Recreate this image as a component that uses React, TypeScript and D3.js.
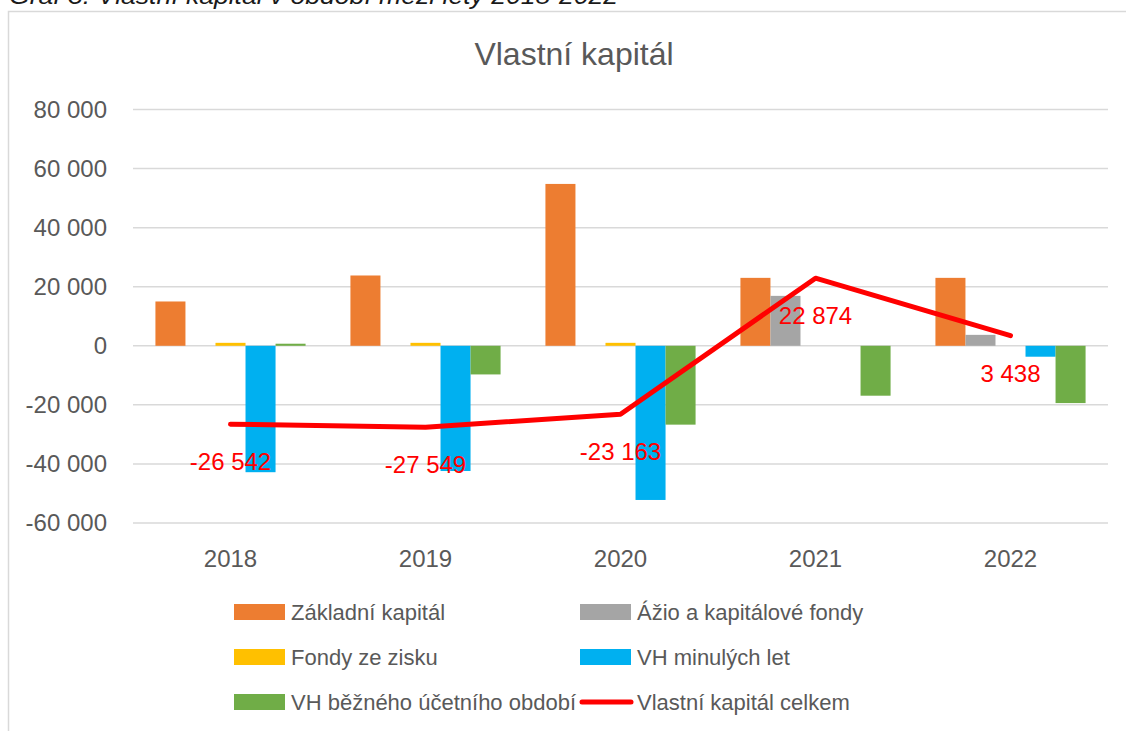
import React from "react";
import * as d3 from "d3";

const categories = ["2018", "2019", "2020", "2021", "2022"];
const zakladniKapital = [15000, 23800, 54800, 23000, 23000];
const azioFondy = [0, 0, 0, 16900, 3700];
const fondyZeZisku = [1000, 1000, 1000, 0, 0];
const vhMinulychLet = [-42800, -42400, -52200, 0, -3700];
const vhBeznehoObdobi = [700, -9700, -26700, -16900, -19400];
const vlastniKapitalCelkem = [-26542, -27549, -23163, 22874, 3438];
const yTicks = [80000, 60000, 40000, 20000, 0, -20000, -40000, -60000];

const seriesNames = [
  "Základní kapitál",
  "Ážio a kapitálové fondy",
  "Fondy ze zisku",
  "VH minulých let",
  "VH běžného účetního období",
];
const seriesValues = [zakladniKapital, azioFondy, fondyZeZisku, vhMinulychLet, vhBeznehoObdobi];
const seriesColors = ["#ED7D31", "#A5A5A5", "#FFC000", "#00B0F0", "#70AD47"];
const lineName = "Vlastní kapitál celkem";

const W = 1126;
const H = 731;
const FONT = "'Liberation Sans', Arial, sans-serif";
const TEXT = "#595959";

const fmt = (v: number) => {
  const s = Math.abs(v).toString().replace(/\B(?=(\d{3})+(?!\d))/g, " ");
  return (v < 0 ? "-" : "") + s;
};

export default function App() {
  const x = d3.scaleBand<string>().domain(categories).range([133, 1108]);
  const y = d3.scaleLinear().domain([-60000, 80000]).range([523, 109.5]);
  const groupW = x.bandwidth() * 0.77;
  const sub = d3.scaleBand<string>().domain(seriesNames).range([0, groupW]);
  const cx = (c: string) => (x(c) as number) + x.bandwidth() / 2;

  const line = d3
    .line<number>()
    .x((_, i) => cx(categories[i]))
    .y((d) => y(d));

  const legendItems = [
    ...seriesNames.map((n, i) => ({ name: n, color: seriesColors[i], kind: "bar" })),
    { name: lineName, color: "#FF0000", kind: "line" },
  ];
  const legendColX = [234, 580];
  const legendRowY = [612, 657, 702];

  return (
    <div style={{ position: "absolute", left: 0, top: 0 }}>
      <svg width={W} height={H} style={{ display: "block", background: "#fff" }}>
        <text
          x={9}
          y={4}
          fontFamily={FONT}
          fontStyle="italic"
          fontSize={24}
          fill="#1a1a1a"
          textLength={609}
          lengthAdjust="spacingAndGlyphs"
        >
          Graf 3: Vlastní kapitál v období mezi lety 2018-2022
        </text>
        <rect x={8.5} y={11.5} width={1200} height={800} fill="#fff" stroke="#D9D9D9" strokeWidth={1.5} />
        <text x={574} y={65} textAnchor="middle" fontFamily={FONT} fontSize={32} fill={TEXT}>
          Vlastní kapitál
        </text>
        {yTicks.map((t) => (
          <g key={t}>
            <line x1={133} x2={1108} y1={y(t)} y2={y(t)} stroke="#D9D9D9" strokeWidth={1.5} />
            <text x={107} y={y(t) + 8} textAnchor="end" fontFamily={FONT} fontSize={24} fill={TEXT}>
              {fmt(t)}
            </text>
          </g>
        ))}
        {categories.map((c, ci) => (
          <g key={c}>
            {seriesNames.map((s, si) => {
              const v = seriesValues[si][ci];
              if (v === 0) return null;
              const bx = cx(c) - groupW / 2 + (sub(s) as number);
              const y0 = y(0);
              const y1 = y(v);
              return (
                <rect
                  key={s}
                  x={bx}
                  width={sub.bandwidth()}
                  y={Math.min(y0, y1)}
                  height={Math.abs(y1 - y0)}
                  fill={seriesColors[si]}
                />
              );
            })}
            <text x={cx(c)} y={567} textAnchor="middle" fontFamily={FONT} fontSize={24} fill={TEXT}>
              {c}
            </text>
          </g>
        ))}
        <path
          d={line(vlastniKapitalCelkem) || ""}
          fill="none"
          stroke="#FF0000"
          strokeWidth={5}
          strokeLinecap="round"
          strokeLinejoin="round"
        />
        {vlastniKapitalCelkem.map((v, i) => (
          <text
            key={i}
            x={cx(categories[i])}
            y={y(v) + 46}
            textAnchor="middle"
            fontFamily={FONT}
            fontSize={24}
            fill="#FF0000"
          >
            {fmt(v)}
          </text>
        ))}
        {legendItems.map((it, i) => {
          const lx = legendColX[i % 2];
          const ly = legendRowY[Math.floor(i / 2)];
          return (
            <g key={it.name}>
              {it.kind === "bar" ? (
                <rect x={lx} y={ly - 8} width={51} height={16} fill={it.color} />
              ) : (
                <line x1={lx + 2} x2={lx + 51} y1={ly} y2={ly} stroke={it.color} strokeWidth={5} strokeLinecap="round" />
              )}
              <text x={lx + 57} y={ly + 8} fontFamily={FONT} fontSize={22} fill={TEXT}>
                {it.name}
              </text>
            </g>
          );
        })}
      </svg>
    </div>
  );
}
